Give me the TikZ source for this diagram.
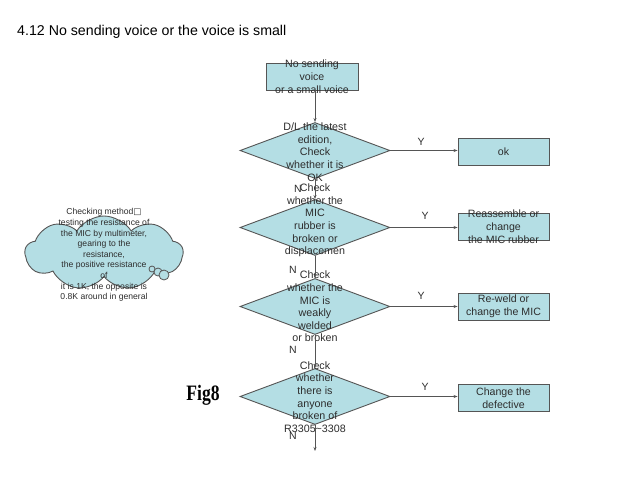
\documentclass[tikz,border=0pt]{standalone}
\usepackage{fontspec}
\setmainfont{Liberation Sans}
\newfontfamily\djv{DejaVu Sans}
\newfontfamily\figfont{Liberation Serif}
\usetikzlibrary{shapes.geometric,shapes.symbols,arrows.meta}
\definecolor{boxfill}{RGB}{180,222,228}
\definecolor{edgec}{RGB}{85,85,85}
\definecolor{txt}{RGB}{45,45,45}
\tikzset{
  procbox/.style={draw=edgec, fill=boxfill, line width=0.9pt, minimum width=91pt, minimum height=27pt, inner sep=0pt},
  decbox/.style={diamond, draw=edgec, fill=boxfill, line width=0.9pt, minimum width=150pt, minimum height=56pt, inner sep=0pt},
  boxtxt/.style={text=txt, font=\fontsize{10.6}{12.8}\selectfont, align=center, inner sep=0pt},
  dtxt/.style={text=txt, font=\fontsize{10.7}{12.6}\selectfont, align=center, inner sep=0pt},
  lbl/.style={text=txt, font=\fontsize{10.5}{12}\selectfont, inner sep=0pt},
  arr/.style={draw=edgec, line width=0.8pt, -{Stealth[length=4pt,width=3pt]}},
}
\begin{document}
\begin{tikzpicture}[x=1pt,y=-1pt]
\useasboundingbox (0,0) rectangle (640,480);
\fill[white] (0,0) rectangle (640,480);

\node[anchor=west, text=black, font=\fontsize{14.2}{16}\selectfont, inner sep=0pt] (title) at (17,32) {4.12 No sending voice or the voice is small};

% top box
\node[procbox, minimum width=92pt] (top) at (312,76.5) {};
\node[boxtxt] (toptxt) at (top.center) {No sending\\voice\\or a small voice};

% diamonds
\node[decbox] (d1) at (315,150.5) {};
\node[decbox] (d2) at (315,227.5) {};
\node[decbox] (d3) at (315,306.5) {};
\node[decbox] (d4) at (315,396.5) {};

\node[dtxt] (t1) at (315,152) {D/L the latest\\edition,\\Check\\whether it is\\OK};
\node[dtxt] (t2) at (315,220.5) {Check\\whether the\\MIC\\rubber is\\broken or\\displacemen};
\node[dtxt] (t3) at (315,306.5) {Check\\whether the\\MIC is\\weakly\\welded\\or broken};
\node[dtxt] (t4) at (315,397) {Check\\whether\\there is\\anyone\\broken of\\R3305\textasciitilde3308};

% right boxes
\node[procbox] (r1) at (503.5,151.5) {};
\node[boxtxt] (r1t) at (r1.center) {ok};
\node[procbox] (r2) at (503.5,227) {};
\node[boxtxt] (r2t) at (r2.center) {Reassemble or\\change\\the MIC rubber};
\node[procbox] (r3) at (503.5,306.5) {};
\node[boxtxt] (r3t) at (r3.center) {Re-weld or\\change the MIC};
\node[procbox] (r4) at (503.5,398) {};
\node[boxtxt] (r4t) at (r4.center) {Change the\\defective};

% vertical connectors
\draw[arr] (d1.north |- top.south) -- (d1.north);
\draw[arr] (d1.south) -- (d2.north);
\draw[arr] (d2.south) -- (d3.north);
\draw[arr] (d3.south) -- (d4.north);
\coordinate (endpt) at (315,451);
\draw[arr] (d4.south) -- (endpt);

% horizontal connectors
\draw[arr] (d1.east) -- (d1.east -| r1.west);
\draw[arr] (d2.east) -- (d2.east -| r2.west);
\draw[arr] (d3.east) -- (d3.east -| r3.west);
\draw[arr] (d4.east) -- (d4.east -| r4.west);

% labels
\node[lbl] (y1) at (421,142) {Y};
\node[lbl] (y2) at (425,216) {Y};
\node[lbl] (y3) at (421,296) {Y};
\node[lbl] (y4) at (425,387) {Y};
\node[lbl] (n1) at (298,189) {N};
\node[lbl] (n2) at (293,270) {N};
\node[lbl] (n3) at (293,350) {N};
\node[lbl] (n4) at (293,436) {N};

% Fig8
\node[font=\figfont\bfseries\fontsize{22}{24}\selectfont, xscale=0.8, inner sep=0pt, text=black] (fig) at (203,395) {Fig8};

% cloud
\node[cloud, cloud puffs=9, cloud puff arc=115, aspect=2.4, draw=edgec, fill=boxfill, line width=0.9pt, minimum width=158pt, minimum height=74pt, inner sep=0pt] (cloud) at (104,253) {};
\draw[draw=edgec, fill=boxfill, line width=0.8pt] (152,269) circle (3);
\draw[draw=edgec, fill=boxfill, line width=0.8pt] (158,272) circle (4);
\draw[draw=edgec, fill=boxfill, line width=0.8pt] (164,275) circle (5);
\node[text=txt, font=\fontsize{8.6}{10.6}\selectfont, align=center, inner sep=0pt] (ctxt) at (104,255) {Checking method{\djv □}\\testing the resistance of\\the MIC by multimeter,\\gearing to the\\resistance,\\the positive resistance\\of\\it is 1K, the opposite is\\0.8K around in general};
\end{tikzpicture}
\end{document}
